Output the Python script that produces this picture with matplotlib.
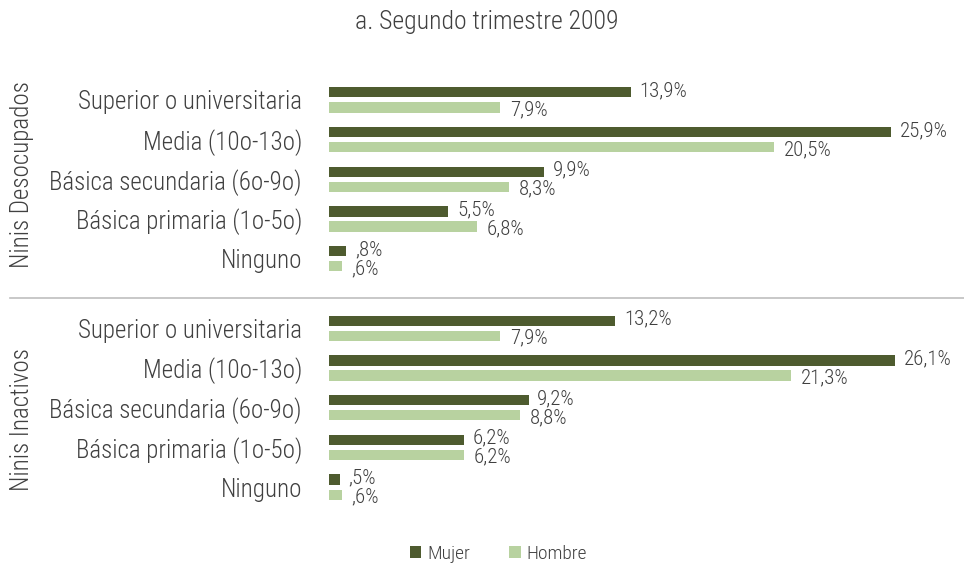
import numpy as np
import matplotlib
matplotlib.use("Agg")
import matplotlib.pyplot as plt
from matplotlib import font_manager

# Data
categories = ["Superior o universitaria", "Media (10o-13o)", "Básica secundaria (6o-9o)",
              "Básica primaria (1o-5o)", "Ninguno"]
groups = ["Ninis Desocupados", "Ninis Inactivos"]
mujer_desocupados = [13.9, 25.9, 9.9, 5.5, 0.8]
hombre_desocupados = [7.9, 20.5, 8.3, 6.8, 0.6]
mujer_inactivos = [13.2, 26.1, 9.2, 6.2, 0.5]
hombre_inactivos = [7.9, 21.3, 8.8, 6.2, 0.6]

# pick a condensed font if one is around
names = {f.name for f in font_manager.fontManager.ttflist}
family = "Roboto"
for cand in ["Roboto Condensed", "Liberation Sans Narrow", "Roboto"]:
    if cand in names:
        family = cand
        break
plt.rcParams["font.family"] = [family, "DejaVu Sans"]
plt.rcParams["font.weight"] = "light"

c_mujer = "#4e5b2f"
c_hombre = "#b8d2a0"
c_text = "#404040"

def fmt(v):
    s = f"{v:.1f}".replace(".", ",")
    if s.startswith("0"):
        s = s[1:]
    return s + "%"

fig = plt.figure(figsize=(9.64, 5.64), dpi=100)
ax = fig.add_axes([329 / 964, 1 - 505 / 564, (940 - 329) / 964, (505 - 80) / 564])

gap = 1.75
y_top = np.arange(5)
y_bot = np.arange(5) + 5 + (gap - 1)
off = 0.19
h = 0.26

mujer = [mujer_desocupados, mujer_inactivos]
hombre = [hombre_desocupados, hombre_inactivos]
for ys, m, hm in zip([y_top, y_bot], mujer, hombre):
    ax.barh(ys - off, m, height=h, color=c_mujer, label="Mujer")
    ax.barh(ys + off, hm, height=h, color=c_hombre, label="Hombre")
    for y, v in zip(ys, m):
        ax.text(v + 0.4, y - off - 0.04, fmt(v), va="center", ha="left", fontsize=15, color=c_text)
    for y, v in zip(ys, hm):
        ax.text(v + 0.45, y + off + 0.06, fmt(v), va="center", ha="left", fontsize=15, color=c_text)

ax.set_xlim(0, (940 - 329) / 21.7)
ax.set_ylim(y_bot[-1] + 0.45, y_top[0] - 0.5)
ax.set_yticks(np.concatenate([y_top, y_bot]))
ax.set_yticklabels(categories + categories, fontsize=18, color=c_text)
ax.tick_params(axis="y", length=0, pad=19.5)
ax.set_xticks([])
for s in ax.spines.values():
    s.set_visible(False)

# group labels and separator
fig.text(22 / 964, 1 - 175 / 564, groups[0], rotation=90, va="center", ha="center",
         fontsize=18, color=c_text)
fig.text(22 / 964, 1 - 420 / 564, groups[1], rotation=90, va="center", ha="center",
         fontsize=18, color=c_text)
fig.add_artist(plt.Line2D([10 / 964, 1.0], [1 - 298 / 564, 1 - 298 / 564],
                          color="#bfbfbf", lw=1.2))

fig.text(487 / 964, 1 - 22 / 564, "a. Segundo trimestre 2009", ha="center", va="center",
         fontsize=18.5, color=c_text)

handles, labels = ax.get_legend_handles_labels()
fig.legend(handles[:2], labels[:2], loc="center", bbox_to_anchor=(0.517, 1 - 554 / 564),
           ncol=2, frameon=False, fontsize=14, handlelength=0.6, handleheight=0.6,
           handletextpad=0.3, columnspacing=2.0, labelcolor=c_text)

fig.savefig("out.png", dpi=100)
